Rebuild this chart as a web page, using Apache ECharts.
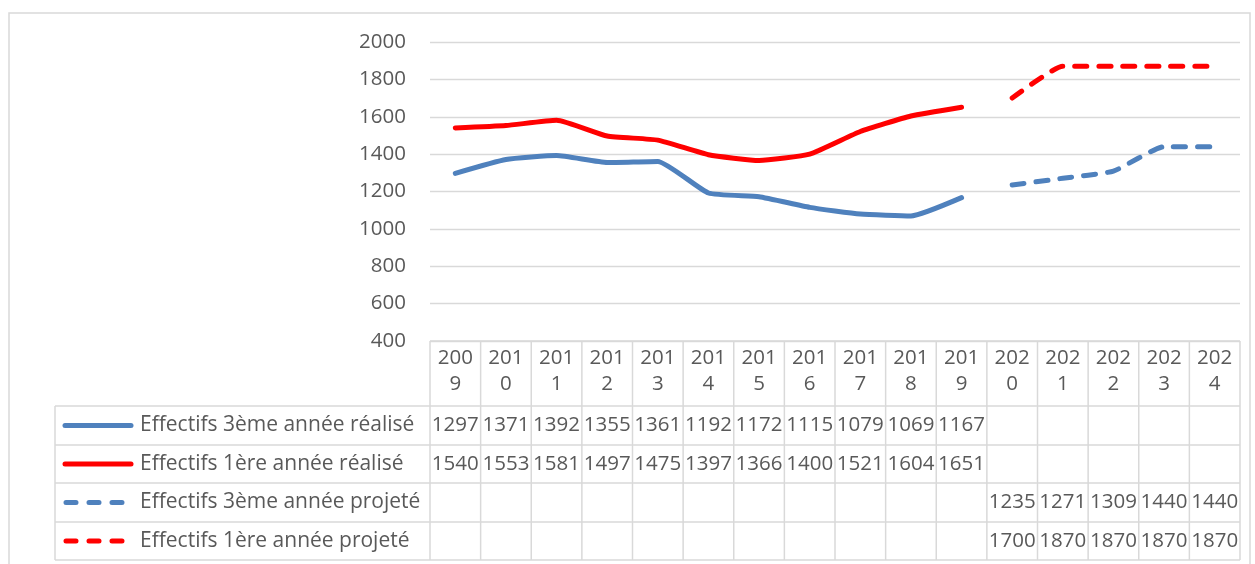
<!DOCTYPE html>
<html>
<head>
<meta charset="utf-8">
<script src="https://cdn.jsdelivr.net/npm/echarts@6/dist/echarts.min.js"></script>
<style>
  html, body { margin: 0; padding: 0; background: #fff; }
  #chart { width: 1255px; height: 564px; }
</style>
</head>
<body>
<div id="chart"></div>
<script>
  const years = ['2009','2010','2011','2012','2013','2014','2015','2016','2017','2018','2019','2020','2021','2022','2023','2024'];
  const real3 = [1297,1371,1392,1355,1361,1192,1172,1115,1079,1069,1167,null,null,null,null,null];
  const real1 = [1540,1553,1581,1497,1475,1397,1366,1400,1521,1604,1651,null,null,null,null,null];
  const proj3 = [null,null,null,null,null,null,null,null,null,null,null,1235,1271,1309,1440,1440];
  const proj1 = [null,null,null,null,null,null,null,null,null,null,null,1700,1870,1870,1870,1870];
  const names = ['Effectifs 3ème année réalisé','Effectifs 1ère année réalisé','Effectifs 3ème année projeté','Effectifs 1ère année projeté'];
  const colors = ['#4f81bd','#ff0000','#4f81bd','#ff0000'];
  const dashed = [false,false,true,true];
  const rows = [real3, real1, proj3, proj1];

  const font = 'Open Sans';
  const txt = '#595959';
  const gridC = '#d9d9d9';
  const lw = 5;

  const myChart = echarts.init(document.getElementById('chart'));

  const series = rows.map((d, i) => ({
    name: names[i],
    type: 'line',
    data: d,
    smooth: 0.15,
    symbol: 'none',
    connectNulls: false,
    lineStyle: {
      color: colors[i],
      width: lw,
      type: dashed[i] ? [12, 12] : 'solid',
      cap: 'round',
      join: 'round'
    },
    emphasis: { disabled: true }
  }));

  const option = {
    animation: false,
    grid: { left: 430, right: 15, top: 42, bottom: 223 },
    xAxis: {
      type: 'category',
      data: years,
      boundaryGap: true,
      axisLine: { show: false },
      axisTick: { show: false },
      axisLabel: {
        interval: 0,
        margin: 4,
        color: txt,
        fontFamily: font,
        fontSize: 20.5,
        lineHeight: 26,
        formatter: v => v.slice(0, 3) + '\n' + v.slice(3)
      }
    },
    yAxis: {
      type: 'value',
      min: 400,
      max: 2000,
      interval: 200,
      axisLine: { show: false },
      axisTick: { show: false },
      axisLabel: { color: txt, fontFamily: font, fontSize: 20.5, margin: 24, formatter: v => String(v) },
      splitLine: { lineStyle: { color: gridC, width: 1.3 } }
    },
    series: series
  };
  myChart.setOption(option);

  // data table under the plot
  const left = 430, right = 1240, colW = (right - left) / years.length;
  const yTop = 341;
  const rowY = [406, 445, 483, 522, 560];
  const tableLeft = 55;
  const g = [];
  const ln = (x1, y1, x2, y2) => g.push({
    type: 'line', shape: { x1, y1, x2, y2 }, style: { stroke: gridC, lineWidth: 1.5 }, silent: true
  });

  g.push({ type: 'rect', shape: { x: 9, y: 13, width: 1241, height: 552 }, style: { fill: null, stroke: gridC, lineWidth: 1.5 }, silent: true });

  ln(left, yTop, right, yTop);
  rowY.forEach(y => ln(tableLeft, y, right, y));
  ln(tableLeft, rowY[0], tableLeft, rowY[4]);
  for (let i = 0; i <= years.length; i++) {
    const x = left + i * colW;
    ln(x, yTop, x, rowY[4]);
  }

  rows.forEach((d, r) => {
    const cy = (rowY[r] + rowY[r + 1]) / 2;
    g.push({
      type: 'line',
      shape: dashed[r] ? { x1: 66, y1: cy, x2: 122, y2: cy } : { x1: 65, y1: cy, x2: 131, y2: cy },
      style: { stroke: colors[r], lineWidth: lw, lineCap: 'round', lineDash: dashed[r] ? [10, 13] : null },
      silent: true
    });
    g.push({
      type: 'text', x: 140, y: cy,
      style: { text: names[r], fill: txt, font: '21px "' + font + '"', textVerticalAlign: 'middle', textAlign: 'left' },
      silent: true
    });
    d.forEach((v, c) => {
      if (v == null) return;
      const cx = myChart.convertToPixel({ xAxisIndex: 0 }, years[c]);
      g.push({
        type: 'text', x: cx, y: cy,
        style: { text: String(v), fill: txt, font: '20.5px "' + font + '"', textAlign: 'center', textVerticalAlign: 'middle' },
        silent: true
      });
    });
  });

  myChart.setOption({ graphic: g });
</script>
</body>
</html>
